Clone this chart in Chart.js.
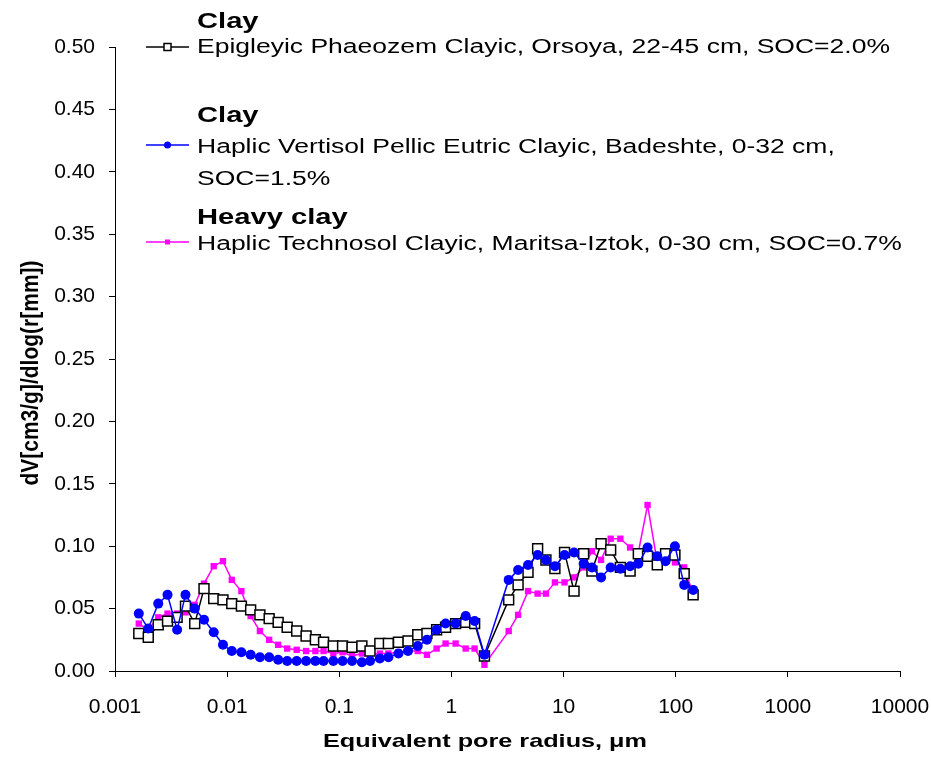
<!DOCTYPE html>
<html>
<head>
<meta charset="utf-8">
<script src="https://cdn.jsdelivr.net/npm/chart.js@4.4.1/dist/chart.umd.min.js"></script>
<style>
    html, body { margin: 0; padding: 0; background: #fff; }
    canvas { display: block; }
</style>
</head>
<body>
<canvas id="psd-chart" width="931" height="758"></canvas>
<script>
"use strict";
// equivalent pore radius classes, um (same for the three soils)
var radius = [0.00163, 0.00198, 0.00243, 0.00294, 0.00358, 0.00425, 0.00514, 0.00622, 0.00759, 0.00918,
    0.0110, 0.0134, 0.0162, 0.0196, 0.0237, 0.0285, 0.0343, 0.0417, 0.0506, 0.0612,
    0.0724, 0.0885, 0.107, 0.130, 0.159, 0.188, 0.230, 0.274, 0.337, 0.410,
    0.501, 0.605, 0.738, 0.887, 1.09, 1.34, 1.61, 1.97,
    3.24, 3.93, 4.82, 5.87, 6.96, 8.37, 10.2, 12.4, 15.1, 17.9,
    21.6, 26.3, 32.1, 39.2, 46.4, 56.1, 68.5, 81.2, 98.4, 119, 143];

// dV/dlog(r), cm3/g
var orsoya = [0.030, 0.027, 0.037, 0.040, 0.043, 0.052, 0.038, 0.066, 0.058, 0.057,
    0.054, 0.052, 0.049, 0.045, 0.042, 0.039, 0.035, 0.032, 0.028, 0.025,
    0.023, 0.020, 0.020, 0.019, 0.020, 0.016, 0.022, 0.022, 0.023, 0.024,
    0.029, 0.030, 0.033, 0.035, 0.038, 0.039, 0.038, 0.012,
    0.057, 0.069, 0.079, 0.098, 0.089, 0.082, 0.095, 0.064, 0.094, 0.080,
    0.102, 0.097, 0.083, 0.080, 0.094, 0.092, 0.085, 0.094, 0.093, 0.078, 0.061];
var badeshte = [0.046, 0.034, 0.054, 0.061, 0.033, 0.061, 0.050, 0.041, 0.031, 0.021,
    0.016, 0.015, 0.013, 0.011, 0.011, 0.009, 0.008, 0.008, 0.008, 0.008,
    0.008, 0.008, 0.008, 0.008, 0.007, 0.008, 0.010, 0.011, 0.014, 0.016,
    0.020, 0.025, 0.033, 0.038, 0.038, 0.044, 0.040, 0.013,
    0.073, 0.081, 0.085, 0.093, 0.089, 0.084, 0.093, 0.095, 0.086, 0.083,
    0.075, 0.083, 0.082, 0.084, 0.086, 0.099, 0.092, 0.088, 0.100, 0.069, 0.065];
var maritsa = [0.038, 0.033, 0.043, 0.046, 0.046, 0.047, 0.053, 0.070, 0.084, 0.088,
    0.073, 0.064, 0.044, 0.032, 0.025, 0.021, 0.018, 0.017, 0.016, 0.016,
    0.016, 0.014, 0.015, 0.012, 0.014, 0.013, 0.014, 0.014, 0.015, 0.016,
    0.016, 0.013, 0.018, 0.022, 0.022, 0.018, 0.018, 0.005,
    0.032, 0.045, 0.064, 0.062, 0.062, 0.071, 0.071, 0.075, 0.083, 0.096,
    0.089, 0.106, 0.106, 0.099, 0.095, 0.133, 0.087, 0.095, 0.087, 0.083, 0.062];

var xTicks = [0.001, 0.01, 0.1, 1, 10, 100, 1000, 10000];
var yTicks = [0, 0.05, 0.10, 0.15, 0.20, 0.25, 0.30, 0.35, 0.40, 0.45, 0.50];

var textures = ["Clay", "Clay", "Heavy clay"];
var soilNames = [
    ["Epigleyic Phaeozem Clayic, Orsoya, 22-45 cm, SOC=2.0%"],
    ["Haplic Vertisol Pellic Eutric Clayic, Badeshte, 0-32 cm,", "SOC=1.5%"],
    ["Haplic Technosol Clayic, Maritsa-Iztok, 0-30 cm, SOC=0.7%"]
];
var xTitle = "Equivalent pore radius, μm";
var yTitle = "dV[cm3/g]/dlog(r[mm])";

function pairs(ys) {
    return ys.map(function (y, i) { return { x: radius[i], y: y }; });
}

var FONT = "'Liberation Sans', Arial, sans-serif";

// text written wider than the font, the way the original picture has it
function wideText(ctx, txt, x, y, sx, font) {
    ctx.save();
    ctx.translate(x, y);
    ctx.scale(sx, 1);
    ctx.font = font;
    ctx.fillText(txt, 0, 0);
    ctx.restore();
}

// legend + axis titles drawn by hand
var soilLegend = {
    id: 'soilLegend',
    afterDraw: function (chart) {
        var ctx = chart.ctx;
        var area = chart.chartArea;
        var rows = [
            { title: 28, text: [53], mark: 47 },
            { title: 122, text: [153, 185], mark: 145 },
            { title: 224, text: [250], mark: 242 }
        ];
        ctx.save();
        ctx.font = "20px " + FONT;
        var sx = 693 / ctx.measureText(soilNames[0][0]).width;
        ctx.fillStyle = '#000';
        ctx.textBaseline = 'alphabetic';
        ctx.textAlign = 'left';
        rows.forEach(function (r, i) {
            var ds = chart.data.datasets[i];
            wideText(ctx, textures[i], 197, r.title, sx, "bold 22px " + FONT);
            soilNames[i].forEach(function (t, k) {
                wideText(ctx, t, 197, r.text[k], sx, "20px " + FONT);
            });
            // marker sample
            ctx.strokeStyle = ds.borderColor;
            ctx.lineWidth = 1.5;
            ctx.beginPath();
            ctx.moveTo(146, r.mark);
            ctx.lineTo(189, r.mark);
            ctx.stroke();
            ctx.fillStyle = ds.pointBackgroundColor;
            ctx.strokeStyle = ds.pointBorderColor;
            if (ds.pointStyle === 'circle') {
                ctx.beginPath();
                ctx.arc(167.5, r.mark, 3.5, 0, Math.PI * 2);
                ctx.fill();
            } else {
                var h = i === 0 ? 3.5 : 2.5;
                ctx.fillRect(167.5 - h, r.mark - h, 2 * h, 2 * h);
                if (i === 0) ctx.strokeRect(167.5 - h, r.mark - h, 2 * h, 2 * h);
            }
            ctx.fillStyle = '#000';
        });

        // x title
        ctx.font = "bold 19px " + FONT;
        var tx = 324 / ctx.measureText(xTitle).width;
        wideText(ctx, xTitle, 485 - 162, 747, tx, "bold 19px " + FONT);

        // y title (rotated)
        ctx.save();
        ctx.translate(38, (area.top + area.bottom) / 2 + 14);
        ctx.rotate(-Math.PI / 2);
        ctx.scale(1, 1.15);
        ctx.font = "bold 21px " + FONT;
        ctx.textAlign = 'center';
        ctx.fillText(yTitle, 0, 0);
        ctx.restore();
        ctx.restore();
    }
};

new Chart(document.getElementById("psd-chart"), {
    type: 'scatter',
    data: {
        datasets: [
            {
                label: soilNames[0][0],
                data: pairs(orsoya),
                showLine: true,
                borderColor: '#000000',
                borderWidth: 1.5,
                pointStyle: 'rect',
                pointRadius: 7,
                pointBackgroundColor: '#ffffff',
                pointBorderColor: '#000000',
                pointBorderWidth: 1.5,
                order: 2
            },
            {
                label: soilNames[1].join(' '),
                data: pairs(badeshte),
                showLine: true,
                borderColor: '#0000ff',
                borderWidth: 1.5,
                pointStyle: 'circle',
                pointRadius: 5,
                pointBackgroundColor: '#0000ff',
                pointBorderColor: '#0000ff',
                pointBorderWidth: 0,
                order: 1
            },
            {
                label: soilNames[2][0],
                data: pairs(maritsa),
                showLine: true,
                borderColor: '#ff00ff',
                borderWidth: 1.5,
                pointStyle: 'rect',
                pointRadius: 4.5,
                pointBackgroundColor: '#ff00ff',
                pointBorderColor: '#ff00ff',
                pointBorderWidth: 0,
                order: 3
            }
        ]
    },
    options: {
        responsive: false,
        animation: false,
        layout: { padding: { top: 47, right: 31, left: 0, bottom: 0 } },
        plugins: {
            legend: { display: false },
            tooltip: { enabled: false }
        },
        scales: {
            x: {
                type: 'logarithmic',
                min: 0.001,
                max: 10000,
                afterBuildTicks: function (s) {
                    s.ticks = xTicks.map(function (v) { return { value: v }; });
                },
                afterFit: function (s) {
                    s.height = 87;
                    s.paddingLeft = 0;
                    s.paddingRight = 0;
                },
                grid: { drawOnChartArea: false, color: '#000', tickLength: 6 },
                border: { color: '#000', width: 1 },
                ticks: {
                    color: '#000',
                    padding: 18,
                    maxRotation: 0,
                    autoSkip: false,
                    font: { family: FONT, size: 21 },
                    callback: function (v) { return String(v); }
                }
            },
            y: {
                min: 0,
                max: 0.5,
                afterBuildTicks: function (s) {
                    s.ticks = yTicks.map(function (v) { return { value: v }; });
                },
                afterFit: function (s) {
                    s.width = 115;
                    s.paddingTop = 0;
                    s.paddingBottom = 0;
                },
                grid: { drawOnChartArea: false, color: '#000', tickLength: 6 },
                border: { color: '#000', width: 1 },
                ticks: {
                    color: '#000',
                    padding: 14,
                    font: { family: FONT, size: 21 },
                    callback: function (v) { return v.toFixed(2); }
                }
            }
        }
    },
    plugins: [soilLegend]
});
</script>
</body>
</html>
